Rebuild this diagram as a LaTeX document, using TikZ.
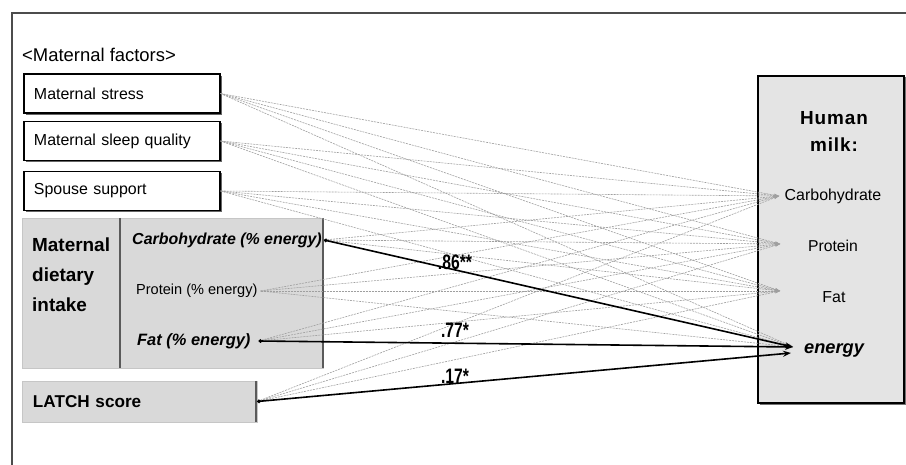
\documentclass[tikz,border=0pt]{standalone}
\usepackage{fontspec}
\setmainfont{Liberation Sans}
\usetikzlibrary{arrows.meta,positioning,shadows}

\begin{document}
\begin{tikzpicture}[x=1bp, y=-1bp,
    factorbox/.style={draw=black, line width=1.1bp, fill=white, minimum height=39bp,
        text width=176bp, inner xsep=10bp, align=left, font=\fontsize{16}{18}\selectfont,
        drop shadow={shadow xshift=1.6bp, shadow yshift=-1.6bp, fill=black!60, opacity=1}},
    pathline/.style={draw=gray!75, dash pattern=on 2bp off 1bp, line width=0.6bp,
        -{Stealth[length=5bp, width=3bp]}},
    sigpath/.style={draw=black, line width=1.6bp,
        {Circle[length=3.5bp]}-{Stealth[length=8bp, width=6bp]}},
    coef/.style={font=\fontsize{21}{23}\selectfont\bfseries, inner sep=0pt}]
    \def\frameEnd{930}

    \definecolor{dietGray}{HTML}{D9D9D9}
    \definecolor{milkGray}{HTML}{E4E4E4}
    \definecolor{edgeGray}{HTML}{5A5A5A}

    \useasboundingbox (0,0) rectangle (906,465);
    \clip (0,0) rectangle (906,465);

    % Draw outer frame
    \draw[line width=1.2bp, black!70] (12,\frameEnd) -- (12,13) -- (\frameEnd,13);

    % Maternal factors
    \node[anchor=west, inner sep=0pt, font=\fontsize{18.5}{20}\selectfont] (title) at (22,55) {<Maternal factors>};
    \node[factorbox] (stress) at (122,93.5) {Maternal stress};
    \node[factorbox] (sleep) at (122,141) {Maternal sleep quality};
    \node[factorbox] (spouse) at (122,191) {Spouse support};

    % Maternal dietary intake
    \node[draw=gray!45, fill=dietGray, minimum width=301bp, minimum height=150bp] (diet) at (172.5,293) {};
    \draw[edgeGray, line width=1.6bp] (120,218) -- (120,368);
    \draw[edgeGray, line width=2bp] (323,218) -- (323,368);
    \node[anchor=west, align=left, inner sep=0pt, font=\fontsize{19}{30}\selectfont\bfseries] (dietlabel) at (32,275) {Maternal\\dietary\\intake};
    \node[anchor=east, inner xsep=2bp, font=\fontsize{16}{18}\selectfont\bfseries\itshape] (carbin) at (324,240) {Carbohydrate (\% energy)};
    \node[anchor=west, inner xsep=3bp, font=\fontsize{14.6}{17}\selectfont] (protin) at (133,291) {Protein (\% energy)};
    \node[anchor=west, inner xsep=8bp, font=\fontsize{16.5}{18}\selectfont\bfseries\itshape] (fatin) at (129,341) {Fat (\% energy)};

    % LATCH score
    \node[draw=gray!45, fill=dietGray, minimum height=41bp, text width=213bp, inner xsep=11bp,
        align=left, font=\fontsize{17.2}{19}\selectfont\bfseries] (latch) at (139.5,401.5) {LATCH score};
    \draw[edgeGray, line width=2bp] (256,381) -- (256,422);

    % Human milk
    \node[draw=black, line width=1.5bp, fill=milkGray, minimum width=146bp, minimum height=327bp,
        drop shadow={shadow xshift=1.5bp, shadow yshift=-1.5bp, fill=black!55, opacity=1}] (milk) at (831,239.5) {};
    \node[align=center, font=\fontsize{19}{27}\selectfont\bfseries\addfontfeatures{LetterSpace=5}] (milktitle) at (834,131.5) {Human\\milk:};
    \node[font=\fontsize{16}{18}\selectfont] (hmcarb) at (833,196) {Carbohydrate};
    \node[font=\fontsize{15.8}{18}\selectfont] (hmprot) at (833,246) {Protein};
    \node[font=\fontsize{16}{18}\selectfont] (hmfat) at (834,297) {Fat};
    \node[font=\fontsize{18.3}{20}\selectfont\bfseries\itshape] (hmenergy) at (834,350) {energy};

    \coordinate (tcarb) at (779,196);
    \coordinate (tprot) at (780,244);
    \coordinate (tfat) at (780,291);
    \coordinate (tenergy) at (793,347);
    \coordinate (tenergyb) at (791,353);

    % Draw paths
    \foreach \src in {stress,sleep,spouse,protin}
        \foreach \tgt in {tcarb,tprot,tfat,tenergy}
            \draw[pathline] (\src.east) -- (\tgt);
    \foreach \src in {carbin,fatin,latch}
        \foreach \tgt in {tcarb,tprot,tfat}
            \draw[pathline] (\src.east) -- (\tgt);

    % Significant paths
    \draw[sigpath] (carbin.east) -- (tenergy);
    \draw[sigpath] (fatin.east) -- (tenergy);
    \draw[sigpath] (latch.east) -- (tenergyb);
    \node[coef] (coefcarb) at (455,262) {\scalebox{0.75}[1]{.86**}};
    \node[coef] (coeffat) at (455,330) {\scalebox{0.75}[1]{.77*}};
    \node[coef] (coeflatch) at (455,376) {\scalebox{0.75}[1]{.17*}};

\end{tikzpicture}
\end{document}
